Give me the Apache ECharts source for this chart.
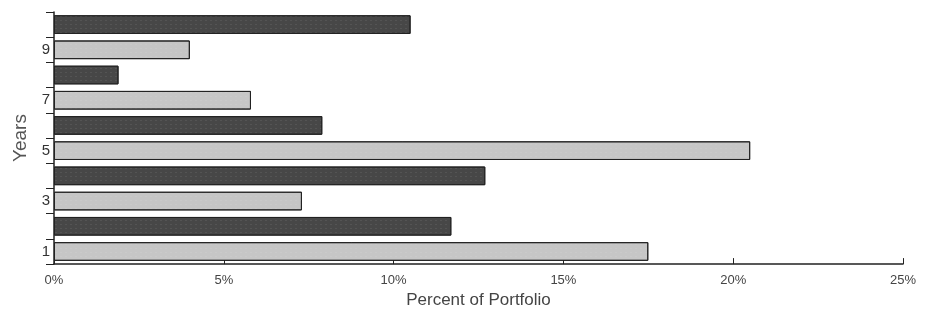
<!DOCTYPE html>
<html>
<head>
<meta charset="utf-8">
<script src="https://cdn.jsdelivr.net/npm/echarts@6/dist/echarts.min.js"></script>
<style>
  html, body { margin: 0; padding: 0; background: #fff; }
  #chart { width: 931px; height: 314px; }
</style>
</head>
<body>
<div id="chart"></div>
<script>
// years 1..10, bottom to top
var years = ['1', '2', '3', '4', '5', '6', '7', '8', '9', '10'];
// percent of portfolio per year
var percents = [17.5, 11.7, 7.3, 12.7, 20.5, 7.9, 5.8, 1.9, 4.0, 10.5];
var xTicks = [0, 5, 10, 15, 20, 25];

var dom = document.getElementById('chart');
var myChart = echarts.init(dom, null, { renderer: 'canvas' });

var lightBar = '#c6c6c6';
var darkBar = '#474747';

var option = {
  animation: false,
  backgroundColor: '#fff',
  grid: { left: 54, right: 28, top: 12, bottom: 42 },
  xAxis: {
    type: 'value',
    min: xTicks[0],
    max: xTicks[xTicks.length - 1],
    interval: 5,
    name: 'Percent of Portfolio',
    nameLocation: 'middle',
    nameGap: 27,
    nameTextStyle: { fontFamily: 'Liberation Sans', fontSize: 17, color: '#444' },
    axisLine: { show: true, lineStyle: { color: '#222', width: 1.5 } },
    axisTick: { show: true, inside: true, length: 6, lineStyle: { color: '#222' } },
    axisLabel: {
      margin: 10,
      fontFamily: 'Liberation Sans',
      fontSize: 13,
      color: '#444',
      formatter: function (v) { return v + '%'; }
    },
    splitLine: { show: false }
  },
  yAxis: {
    type: 'category',
    data: years,
    name: 'Years',
    nameLocation: 'middle',
    nameGap: 23,
    nameTextStyle: { fontFamily: 'Liberation Sans', fontSize: 19, color: '#555' },
    axisLine: { show: true, lineStyle: { color: '#222', width: 1.5 } },
    axisTick: { show: true, length: 8, interval: 0, lineStyle: { color: '#222' } },
    axisLabel: {
      interval: 1,
      margin: 4,
      fontFamily: 'Liberation Sans',
      fontSize: 15,
      color: '#333'
    }
  },
  series: [
    {
      type: 'bar',
      data: percents,
      barCategoryGap: '26%',
      itemStyle: {
        borderColor: '#222',
        borderWidth: 1,
        color: function (p) { return p.dataIndex % 2 === 0 ? lightBar : darkBar; },
        decal: {
          symbol: 'rect',
          symbolSize: 0.6,
          color: 'rgba(255,255,255,0.25)',
          dashArrayX: [2, 3],
          dashArrayY: [1, 3],
          rotation: 0
        }
      }
    }
  ]
};

myChart.setOption(option);
window.addEventListener('resize', myChart.resize);
</script>
</body>
</html>
